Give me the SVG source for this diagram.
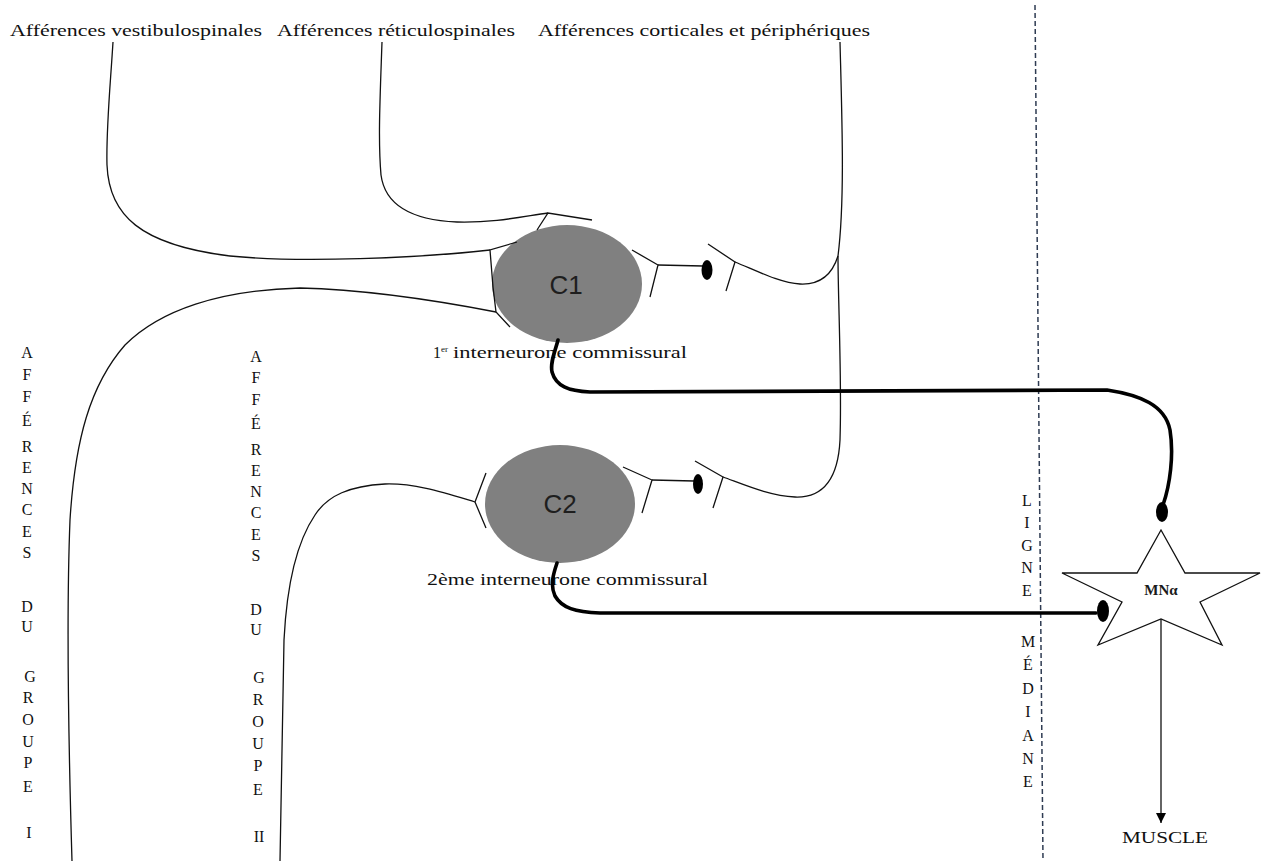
<svg xmlns="http://www.w3.org/2000/svg" width="1269" height="861" viewBox="0 0 1269 861">
<defs>
<style>
.t{font-family:"Liberation Serif","Times New Roman",serif;font-size:17px;fill:#111}
.s{font-family:"Liberation Serif","Times New Roman",serif;font-size:16px;fill:#111}
.sup{font-size:9px}
.v{font-family:"Liberation Serif","Times New Roman",serif;font-size:16px;fill:#111;text-anchor:middle}
.thin{fill:none;stroke:#111;stroke-width:1.3}
.thick{fill:none;stroke:#000;stroke-width:3.6;stroke-linecap:round}
.cell{fill:#808080}
.cl{font-family:"Liberation Sans",Arial,sans-serif;font-size:26px;fill:#1e1e1e;text-anchor:middle}
.dot{fill:#000}
</style>
<marker id="arr" markerWidth="12" markerHeight="10" refX="10" refY="5" orient="auto" markerUnits="userSpaceOnUse" viewBox="0 0 10 10">
<polygon points="0,0 10,5 0,10" fill="#000"/>
</marker>
</defs>
<rect width="1269" height="861" fill="#fff"/>

<g id="labels-top">
<text class="t" x="10" y="36" textLength="252" lengthAdjust="spacingAndGlyphs">Afférences vestibulospinales</text>
<text class="t" x="277" y="36" textLength="238" lengthAdjust="spacingAndGlyphs">Afférences réticulospinales</text>
<text class="t" x="538" y="36" textLength="332" lengthAdjust="spacingAndGlyphs">Afférences corticales et périphériques</text>
</g>

<g id="midline">
<line x1="1035" y1="5" x2="1043" y2="861" stroke="#2e3b52" stroke-width="1.5" stroke-dasharray="5 3"/>
<text class="v" x="1027" y="506">L</text>
<text class="v" x="1027" y="528">I</text>
<text class="v" x="1027" y="551">G</text>
<text class="v" x="1027" y="573">N</text>
<text class="v" x="1027" y="596">E</text>
<text class="v" x="1028" y="647">M</text>
<text class="v" x="1028" y="670">É</text>
<text class="v" x="1028" y="694">D</text>
<text class="v" x="1028" y="717">I</text>
<text class="v" x="1028" y="741">A</text>
<text class="v" x="1028" y="764">N</text>
<text class="v" x="1028" y="787">E</text>
</g>

<g id="label-groupe-I">
<text class="v" x="27" y="358">A</text>
<text class="v" x="27" y="380">F</text>
<text class="v" x="27" y="402">F</text>
<text class="v" x="27" y="426">É</text>
<text class="v" x="27" y="452">R</text>
<text class="v" x="27" y="473">E</text>
<text class="v" x="27" y="494">N</text>
<text class="v" x="27" y="515">C</text>
<text class="v" x="27" y="537">E</text>
<text class="v" x="27" y="558">S</text>
<text class="v" x="27" y="612">D</text>
<text class="v" x="27" y="632">U</text>
<text class="v" x="30" y="682">G</text>
<text class="v" x="28" y="703">R</text>
<text class="v" x="28" y="725">O</text>
<text class="v" x="28" y="747">U</text>
<text class="v" x="28" y="768">P</text>
<text class="v" x="28" y="792">E</text>
<text class="v" x="29" y="838">I</text>
</g>

<g id="label-groupe-II">
<text class="v" x="256" y="362">A</text>
<text class="v" x="256" y="383">F</text>
<text class="v" x="256" y="405">F</text>
<text class="v" x="256" y="429">É</text>
<text class="v" x="256" y="455">R</text>
<text class="v" x="256" y="476">E</text>
<text class="v" x="256" y="497">N</text>
<text class="v" x="256" y="518">C</text>
<text class="v" x="256" y="540">E</text>
<text class="v" x="256" y="561">S</text>
<text class="v" x="256" y="615">D</text>
<text class="v" x="256" y="635">U</text>
<text class="v" x="259" y="683">G</text>
<text class="v" x="258" y="705">R</text>
<text class="v" x="258" y="727">O</text>
<text class="v" x="258" y="749">U</text>
<text class="v" x="258" y="771">P</text>
<text class="v" x="258" y="795">E</text>
<text class="v" x="259" y="842">II</text>
</g>

<g id="C1">
<ellipse class="cell" cx="567" cy="284" rx="75" ry="59"/>
<text class="cl" x="566" y="294">C1</text>
<text class="s" x="433" y="358">1<tspan class="sup" dy="-6">er</tspan></text>
<text class="s" x="453" y="358" textLength="234" lengthAdjust="spacingAndGlyphs">interneurone commissural</text>
</g>

<g id="C2">
<ellipse class="cell" cx="560" cy="504" rx="75" ry="59"/>
<text class="cl" x="560" y="513">C2</text>
<text class="s" x="427" y="585" textLength="281" lengthAdjust="spacingAndGlyphs">2ème interneurone commissural</text>
</g>

<g id="MN">
<polygon points="1161,530 1185,573 1260,573 1200,602 1222,645 1161,619 1098,645 1122,602 1062,573 1137,573" fill="#fff" stroke="#111" stroke-width="1.3"/>
<text x="1161" y="595" text-anchor="middle" style="font-family:'Liberation Serif','Times New Roman',serif;font-size:15px;font-weight:bold;fill:#1a1a1a">MNα</text>
</g>

<g id="muscle">
<text x="1122" y="843" textLength="86" lengthAdjust="spacingAndGlyphs" style="font-family:'Liberation Serif','Times New Roman',serif;font-size:16px;fill:#111">MUSCLE</text>
</g>

<g id="connectors">
<path class="thin" d="M113,42 C110,90 106,130 107,165 C109,215 140,245 230,256 C300,263 420,258 490,250"/>
<path class="thin" d="M517,242 L490,250 L493,287 L496,312 L510,327"/>
<path class="thin" d="M382,42 C380,100 378,140 381,175 C385,205 410,220 457,222 C495,223 525,216 548,213"/>
<path class="thin" d="M592,220 L548,213 L537,230"/>
<path class="thin" d="M496,312 C460,305 380,290 300,288 C220,290 160,310 125,345 C90,385 75,440 70,520 C66,620 69,760 72,861"/>
<path class="thin" d="M475,502 C445,493 415,483 385,484 C350,486 328,495 315,515 C298,540 287,580 284,640 C282,720 281,800 280,861"/>
<path class="thin" d="M486,473 L475,502 L486,528"/>
<path class="thin" d="M840,42 C842,120 845,200 838,256"/>
<path class="thin" d="M838,256 C832,275 820,285 800,284 C780,283 755,270 735,262"/>
<path class="thin" d="M708,244 L735,262 L726,291"/>
<path class="thin" d="M838,256 C838,300 842,380 840,440 C838,480 822,498 795,497 C770,496 745,485 723,477"/>
<path class="thin" d="M695,461 L723,477 L713,508"/>
<path class="thin" d="M632,250 L658,265 L650,297"/>
<line class="thin" x1="658" y1="265" x2="703" y2="266"/>
<ellipse class="dot" cx="707" cy="270" rx="5.5" ry="10"/>
<path class="thin" d="M623,467 L652,480 L642,513"/>
<line class="thin" x1="652" y1="480" x2="694" y2="481"/>
<ellipse class="dot" cx="698" cy="484" rx="5" ry="10"/>
<path class="thick" d="M558,340 C555,352 550,362 552,372 C556,386 568,391 590,392 L1107,390 C1140,395 1165,405 1170,430 C1174,455 1170,485 1163,505"/>
<ellipse class="dot" cx="1162" cy="512" rx="6" ry="10"/>
<path class="thick" d="M557,563 C553,575 550,585 555,596 C562,608 575,612 600,613 L1096,613"/>
<ellipse class="dot" cx="1103" cy="611" rx="6" ry="11"/>
<line x1="1161" y1="619" x2="1161" y2="823" stroke="#111" stroke-width="1.3" marker-end="url(#arr)"/>
</g>
</svg>
